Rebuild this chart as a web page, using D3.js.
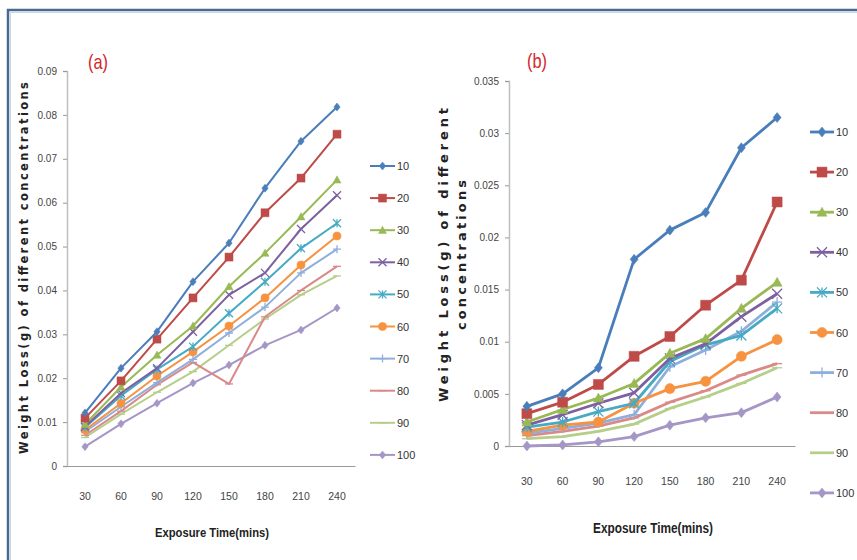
<!doctype html>
<html lang="en">
<head>
<meta charset="UTF-8">
<title>Weight loss vs exposure time</title>
<script src="https://cdn.jsdelivr.net/npm/d3@7"></script>
<style>
    body { margin: 0; background: #fff; }
    .tick text { font-family: "Liberation Sans Narrow", "Arial Narrow", sans-serif; fill: #444; }
    .legendLabel { font-family: "Liberation Sans Narrow", "Arial Narrow", sans-serif; fill: #333; }
</style>
</head>
<body>
<svg id="chart" width="857" height="560"></svg>
<script>
// categories (exposure time, mins)
const times = ["30", "60", "90", "120", "150", "180", "210", "240"]
const concentrations = ["10", "20", "30", "40", "50", "60", "70", "80", "90", "100"]

// panel (a) weight loss values, one array per concentration
const a10  = [0.0121, 0.0223, 0.0306, 0.0420, 0.0508, 0.0633, 0.0740, 0.0818]
const a20  = [0.0109, 0.0194, 0.0289, 0.0383, 0.0476, 0.0577, 0.0656, 0.0756]
const a30  = [0.0095, 0.0180, 0.0253, 0.0319, 0.0409, 0.0485, 0.0568, 0.0652]
const a40  = [0.0090, 0.0166, 0.0223, 0.0306, 0.0390, 0.0440, 0.0540, 0.0617]
const a50  = [0.0088, 0.0160, 0.0220, 0.0272, 0.0348, 0.0420, 0.0496, 0.0553]
const a60  = [0.0082, 0.0143, 0.0205, 0.0260, 0.0319, 0.0383, 0.0458, 0.0524]
const a70  = [0.0078, 0.0135, 0.0190, 0.0243, 0.0303, 0.0362, 0.0440, 0.0494]
const a80  = [0.0070, 0.0125, 0.0185, 0.0236, 0.0187, 0.0340, 0.0400, 0.0455]
const a90  = [0.0065, 0.0118, 0.0168, 0.0215, 0.0275, 0.0335, 0.0390, 0.0433]
const a100 = [0.0044, 0.0096, 0.0143, 0.0189, 0.0230, 0.0275, 0.0310, 0.0360]

// panel (b)
const b10  = [0.0038, 0.0050, 0.0075, 0.0179, 0.0207, 0.0224, 0.0286, 0.0315]
const b20  = [0.0031, 0.0042, 0.0059, 0.0086, 0.0105, 0.0135, 0.0159, 0.0234]
const b30  = [0.0023, 0.0035, 0.0046, 0.0060, 0.0089, 0.0103, 0.0132, 0.0157]
const b40  = [0.0020, 0.0030, 0.0041, 0.0051, 0.0084, 0.0098, 0.0124, 0.0146]
const b50  = [0.0018, 0.0023, 0.0033, 0.0041, 0.0081, 0.0097, 0.0106, 0.0132]
const b60  = [0.0014, 0.0020, 0.0023, 0.0041, 0.0055, 0.0062, 0.0086, 0.0102]
const b70  = [0.0012, 0.0017, 0.0022, 0.0030, 0.0076, 0.0092, 0.0110, 0.0138]
const b80  = [0.0010, 0.0014, 0.0019, 0.0027, 0.0042, 0.0053, 0.0068, 0.0079]
const b90  = [0.0007, 0.0009, 0.0014, 0.0021, 0.0036, 0.0047, 0.0060, 0.0075]
const b100 = [0.0000, 0.0001, 0.0004, 0.0009, 0.0020, 0.0027, 0.0032, 0.0047]

const aTicks = [0, 0.01, 0.02, 0.03, 0.04, 0.05, 0.06, 0.07, 0.08, 0.09]
const bTicks = [0, 0.005, 0.01, 0.015, 0.02, 0.025, 0.03, 0.035]

const colors = ["#4a7ebb", "#be4b48", "#98b954", "#7d60a0", "#46aac4", "#f69240",
                "#8eaedb", "#d98a88", "#b5cf8a", "#a596c6"]
const markers = ["diamond", "square", "triangle", "times", "star", "circle", "plus", "dash", "dash", "diamond"]

const svg = d3.select('#chart')

// outer frame
svg.append('rect').attr('x', 8).attr('y', 10).attr('width', 870).attr('height', 570)
    .attr('fill', 'none').attr('stroke', '#4a6890').attr('stroke-width', 2.5)
svg.append('rect').attr('x', 10.5).attr('y', 12.5).attr('width', 870).attr('height', 570)
    .attr('fill', 'none').attr('stroke', '#c9d7ea').attr('stroke-width', 1)

function markerPath(type, s) {
    let h = s / 2
    if (type === 'diamond') return `M0,${-h}L${h * 0.8},0L0,${h}L${-h * 0.8},0Z`
    if (type === 'square') return `M${-h},${-h}H${h}V${h}H${-h}Z`
    if (type === 'triangle') return `M0,${-h}L${h},${h * 0.8}L${-h},${h * 0.8}Z`
    if (type === 'circle') return d3.symbol(d3.symbolCircle, s * s * 0.8)()
    if (type === 'times') return `M${-h},${-h}L${h},${h}M${-h},${h}L${h},${-h}`
    if (type === 'star') return `M${-h},${-h}L${h},${h}M${-h},${h}L${h},${-h}M0,${-h}V${h}`
    if (type === 'plus') return `M${-h},0H${h}M0,${-h}V${h}`
    if (type === 'dash') return `M${-h},0H${h}`
}
const filled = t => ['diamond', 'square', 'triangle', 'circle'].includes(t)

function drawPanel(cfg) {
    const g = svg.append('g')
    const x = d3.scaleBand().domain(times).range(cfg.xRange).padding(0)
    const y = d3.scaleLinear().domain(cfg.yDomain).range(cfg.yRange)

    // axes
    const yAxis = d3.axisLeft(y).tickValues(cfg.ticks).tickSize(4).tickPadding(6)
        .tickFormat(cfg.fmt)
    const ya = g.append('g').attr('transform', `translate(${cfg.xRange[0]},0)`).call(yAxis)
    ya.select('.domain').attr('stroke', '#bfbfbf').attr('stroke-width', 1.5)
    ya.selectAll('.tick line').attr('stroke', '#999')
    ya.selectAll('.tick text').attr('font-size', 10)

    const xAxis = d3.axisBottom(x).tickSize(0).tickPadding(cfg.xPad)
    const xa = g.append('g').attr('transform', `translate(0,${cfg.yRange[0]})`).call(xAxis)
    xa.select('.domain').attr('stroke', '#999').attr('stroke-width', 1.2)
    xa.selectAll('.tick text').attr('font-size', 10.5)

    // lines
    const line = d3.line().x((d, i) => x(times[i]) + x.bandwidth() / 2).y(d => y(d))
    const order = d3.range(cfg.series.length).reverse()
    order.forEach(k => {
        const vals = cfg.series[k]
        const c = colors[k]
        g.append('path').datum(vals).attr('d', line)
            .attr('fill', 'none').attr('stroke', c).attr('stroke-width', cfg.lw)
            .attr('stroke-linejoin', 'round')
        g.selectAll(null).data(vals).enter().append('path')
            .attr('transform', (d, i) => `translate(${x(times[i]) + x.bandwidth() / 2},${y(d)})`)
            .attr('d', markerPath(markers[k], cfg.ms))
            .attr('fill', filled(markers[k]) ? c : 'none')
            .attr('stroke', c).attr('stroke-width', filled(markers[k]) ? 0.5 : 1.3)
    })

    // legend
    const lg = g.append('g')
    concentrations.forEach((name, k) => {
        const ly = cfg.legendY[0] + k * cfg.legendStep
        const lx = cfg.legendX
        lg.append('line').attr('x1', lx).attr('x2', lx + cfg.legendW).attr('y1', ly).attr('y2', ly)
            .attr('stroke', colors[k]).attr('stroke-width', cfg.lw)
        lg.append('path').attr('transform', `translate(${lx + cfg.legendW / 2},${ly})`)
            .attr('d', markerPath(markers[k], cfg.ms))
            .attr('fill', filled(markers[k]) ? colors[k] : 'none')
            .attr('stroke', colors[k]).attr('stroke-width', filled(markers[k]) ? 0.5 : 1.3)
        lg.append('text').attr('class', 'legendLabel').attr('x', lx + cfg.legendW + 2).attr('y', ly + 4)
            .attr('font-size', cfg.legendFont).text(name)
    })

    // panel label
    g.append('text').attr('x', cfg.label[0]).attr('y', cfg.label[1])
        .attr('font-family', '"Liberation Sans Narrow", "Arial Narrow", sans-serif')
        .attr('font-size', 21).attr('fill', '#d3262b')
        .attr('textLength', 20).attr('lengthAdjust', 'spacingAndGlyphs')
        .text(cfg.labelText)

    // x title
    g.append('text').attr('x', cfg.xTitle[0]).attr('y', cfg.xTitle[1]).attr('text-anchor', 'middle')
        .attr('font-family', '"Liberation Sans Narrow", "Arial Narrow", sans-serif')
        .attr('font-weight', 'bold').attr('font-size', cfg.xTitleSize).attr('fill', '#222')
        .attr('textLength', cfg.xTitleLen).attr('lengthAdjust', 'spacingAndGlyphs')
        .text('Exposure Time(mins)')

    // y title
    cfg.yTitle.forEach(t => {
        g.append('text').attr('transform', `translate(${t.x},${t.y}) rotate(-90)`)
            .attr('text-anchor', 'middle')
            .attr('font-family', '"DejaVu Sans", Verdana, sans-serif')
            .attr('font-weight', 'bold').attr('font-size', t.size).attr('fill', '#222')
            .attr('textLength', t.len).attr('lengthAdjust', 'spacing')
            .text(t.text)
    })
}

drawPanel({
    series: [a10, a20, a30, a40, a50, a60, a70, a80, a90, a100],
    xRange: [67, 355], yDomain: [0, 0.09], yRange: [466, 71], ticks: aTicks,
    fmt: d => d === 0 ? '0' : d3.format('.2f')(d), xPad: 27,
    lw: 2, ms: 8,
    legendX: 370, legendY: [166], legendStep: 32.1, legendW: 25, legendFont: 11,
    label: [88, 69], labelText: '(a)',
    xTitle: [212, 537], xTitleSize: 13, xTitleLen: 114,
    yTitle: [{x: 28, y: 268, size: 11.5, len: 372, text: 'Weight Loss(g) of different concentrations'}]
})

drawPanel({
    series: [b10, b20, b30, b40, b50, b60, b70, b80, b90, b100],
    xRange: [509, 795], yDomain: [0, 0.035], yRange: [446, 81], ticks: bTicks,
    fmt: d => d === 0 ? '0' : String(+d.toFixed(3)), xPad: 32,
    lw: 2.8, ms: 10,
    legendX: 810, legendY: [132], legendStep: 40.1, legendW: 24, legendFont: 11,
    label: [527, 68], labelText: '(b)',
    xTitle: [653, 533], xTitleSize: 14, xTitleLen: 120,
    yTitle: [{x: 448, y: 255, size: 13, len: 294, text: 'Weight Loss(g) of different'},
             {x: 466, y: 255, size: 13, len: 150, text: 'concentrations'}]
})
</script>
</body>
</html>
